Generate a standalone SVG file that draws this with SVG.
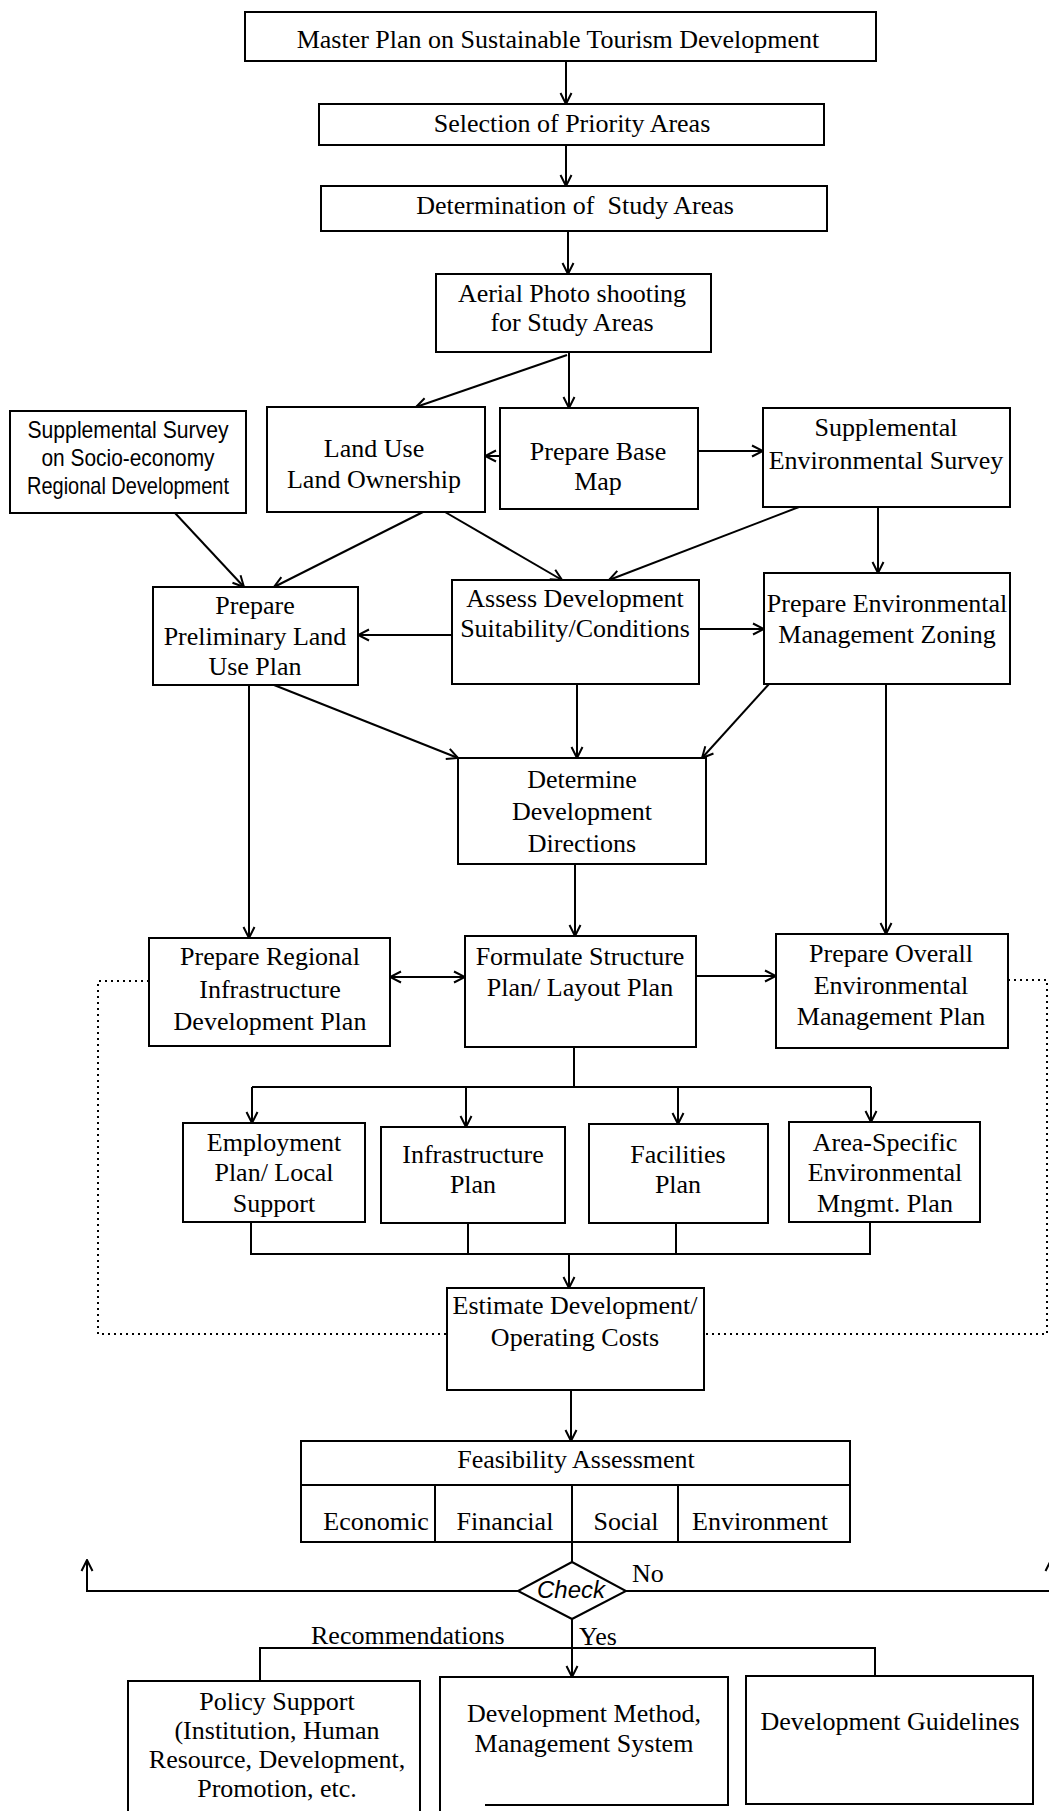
<svg xmlns="http://www.w3.org/2000/svg" width="1049" height="1811" viewBox="0 0 1049 1811">
<style>
.bx{fill:#fff;stroke:#000;stroke-width:2}
.t{font-family:"Liberation Serif","Times New Roman",serif;font-size:26px;fill:#000;text-anchor:middle}
.s{font-family:"Liberation Sans",Arial,sans-serif;font-size:24px;fill:#000;text-anchor:middle}
.c{fill:none;stroke:#000;stroke-width:2}
.d{fill:none;stroke:#000;stroke-width:2;stroke-dasharray:2 4}
</style>
<defs>
<marker id="a" markerUnits="userSpaceOnUse" markerWidth="14" markerHeight="14" viewBox="0 0 14 14" refX="13" refY="7" orient="auto-start-reverse">
<path d="M2,1.5 L13,7 L2,12.5" fill="none" stroke="#000" stroke-width="2"/>
</marker>
</defs>
<rect width="1049" height="1811" fill="#fff"/>
<g id="connectors">
<line class="c" x1="566" y1="61" x2="566" y2="104" marker-end="url(#a)"/>
<line class="c" x1="566" y1="145" x2="566" y2="186" marker-end="url(#a)"/>
<line class="c" x1="568" y1="231" x2="568" y2="274" marker-end="url(#a)"/>
<line class="c" x1="569" y1="352" x2="569" y2="408" marker-end="url(#a)"/>
<line class="c" x1="567" y1="355" x2="416" y2="407" marker-end="url(#a)"/>
<line class="c" x1="500" y1="456" x2="485" y2="456" marker-end="url(#a)"/>
<line class="c" x1="698" y1="451" x2="763" y2="451" marker-end="url(#a)"/>
<line class="c" x1="175" y1="513" x2="244" y2="587" marker-end="url(#a)"/>
<line class="c" x1="423" y1="512" x2="274" y2="587" marker-end="url(#a)"/>
<line class="c" x1="445" y1="512" x2="562" y2="580" marker-end="url(#a)"/>
<line class="c" x1="799" y1="507" x2="609" y2="580" marker-end="url(#a)"/>
<line class="c" x1="878" y1="507" x2="878" y2="573" marker-end="url(#a)"/>
<line class="c" x1="452" y1="635" x2="358" y2="635" marker-end="url(#a)"/>
<line class="c" x1="699" y1="629" x2="764" y2="629" marker-end="url(#a)"/>
<line class="c" x1="274" y1="685" x2="458" y2="758" marker-end="url(#a)"/>
<line class="c" x1="577" y1="684" x2="577" y2="758" marker-end="url(#a)"/>
<line class="c" x1="769" y1="684" x2="702" y2="758" marker-end="url(#a)"/>
<line class="c" x1="249" y1="685" x2="249" y2="938" marker-end="url(#a)"/>
<line class="c" x1="886" y1="684" x2="886" y2="934" marker-end="url(#a)"/>
<line class="c" x1="575" y1="864" x2="575" y2="936" marker-end="url(#a)"/>
<line class="c" x1="390" y1="977" x2="465" y2="977" marker-start="url(#a)" marker-end="url(#a)"/>
<line class="c" x1="696" y1="976" x2="776" y2="976" marker-end="url(#a)"/>
<polyline class="c" points="574,1047 574,1087"/>
<polyline class="c" points="252,1087 871,1087"/>
<line class="c" x1="252" y1="1087" x2="252" y2="1123" marker-end="url(#a)"/>
<line class="c" x1="466" y1="1087" x2="466" y2="1127" marker-end="url(#a)"/>
<line class="c" x1="678" y1="1087" x2="678" y2="1124" marker-end="url(#a)"/>
<line class="c" x1="871" y1="1087" x2="871" y2="1122" marker-end="url(#a)"/>
<polyline class="c" points="251,1222 251,1254 870,1254 870,1222"/>
<line class="c" x1="468" y1="1223" x2="468" y2="1254"/>
<line class="c" x1="676" y1="1223" x2="676" y2="1254"/>
<line class="c" x1="569" y1="1254" x2="569" y2="1288" marker-end="url(#a)"/>
<line class="c" x1="571" y1="1390" x2="571" y2="1441" marker-end="url(#a)"/>
<line class="c" x1="572" y1="1542" x2="572" y2="1562"/>
<polyline class="c" points="518,1591 87,1591 87,1560" marker-end="url(#a)"/>
<polyline class="c" points="626,1591 1051,1591 1051,1560" marker-end="url(#a)"/>
<line class="c" x1="572" y1="1619" x2="572" y2="1677" marker-end="url(#a)"/>
<polyline class="c" points="260,1681 260,1648 875,1648 875,1676"/>
<polyline class="d" points="149,981 98,981 98,1334 447,1334"/>
<polyline class="d" points="1008,980 1047,980 1047,1334 704,1334"/>
</g>
<g id="n1"><rect class="bx" x="245" y="12" width="631" height="49"/><text class="t" x="558" y="48">Master Plan on Sustainable Tourism Development</text></g>
<g id="n2"><rect class="bx" x="319" y="104" width="505" height="41"/><text class="t" x="572" y="132">Selection of Priority Areas</text></g>
<g id="n3"><rect class="bx" x="321" y="186" width="506" height="45"/><text class="t" x="575" y="214" style="white-space:pre">Determination of  Study Areas</text></g>
<g id="n4"><rect class="bx" x="436" y="274" width="275" height="78"/><text class="t" x="572" y="302">Aerial Photo shooting</text><text class="t" x="572" y="331">for Study Areas</text></g>
<g id="n5"><rect class="bx" x="10" y="411" width="236" height="102"/><text class="s" x="128" y="438" textLength="201" lengthAdjust="spacingAndGlyphs">Supplemental Survey</text><text class="s" x="128" y="466" textLength="173" lengthAdjust="spacingAndGlyphs">on Socio-economy</text><text class="s" x="128" y="494" textLength="202" lengthAdjust="spacingAndGlyphs">Regional Development</text></g>
<g id="n6"><rect class="bx" x="267" y="407" width="218" height="105"/><text class="t" x="374" y="457">Land Use</text><text class="t" x="374" y="488">Land Ownership</text></g>
<g id="n7"><rect class="bx" x="500" y="408" width="198" height="101"/><text class="t" x="598" y="460">Prepare Base</text><text class="t" x="598" y="490">Map</text></g>
<g id="n8"><rect class="bx" x="763" y="408" width="247" height="99"/><text class="t" x="886" y="436">Supplemental</text><text class="t" x="886" y="469">Environmental Survey</text></g>
<g id="n9"><rect class="bx" x="153" y="587" width="205" height="98"/><text class="t" x="255" y="614">Prepare</text><text class="t" x="255" y="645">Preliminary Land</text><text class="t" x="255" y="675">Use Plan</text></g>
<g id="n10"><rect class="bx" x="452" y="580" width="247" height="104"/><text class="t" x="575" y="607">Assess Development</text><text class="t" x="575" y="637">Suitability/Conditions</text></g>
<g id="n11"><rect class="bx" x="764" y="573" width="246" height="111"/><text class="t" x="887" y="612">Prepare Environmental</text><text class="t" x="887" y="643">Management Zoning</text></g>
<g id="n12"><rect class="bx" x="458" y="758" width="248" height="106"/><text class="t" x="582" y="788">Determine</text><text class="t" x="582" y="820">Development</text><text class="t" x="582" y="852">Directions</text></g>
<g id="n13"><rect class="bx" x="149" y="938" width="241" height="108"/><text class="t" x="270" y="965">Prepare Regional</text><text class="t" x="270" y="998">Infrastructure</text><text class="t" x="270" y="1030">Development Plan</text></g>
<g id="n14"><rect class="bx" x="465" y="936" width="231" height="111"/><text class="t" x="580" y="965">Formulate Structure</text><text class="t" x="580" y="996">Plan/ Layout Plan</text></g>
<g id="n15"><rect class="bx" x="776" y="934" width="232" height="114"/><text class="t" x="891" y="962">Prepare Overall</text><text class="t" x="891" y="994">Environmental</text><text class="t" x="891" y="1025">Management Plan</text></g>
<g id="n16"><rect class="bx" x="183" y="1123" width="182" height="99"/><text class="t" x="274" y="1151">Employment</text><text class="t" x="274" y="1181">Plan/ Local</text><text class="t" x="274" y="1212">Support</text></g>
<g id="n17"><rect class="bx" x="381" y="1127" width="184" height="96"/><text class="t" x="473" y="1163">Infrastructure</text><text class="t" x="473" y="1193">Plan</text></g>
<g id="n18"><rect class="bx" x="589" y="1124" width="179" height="99"/><text class="t" x="678" y="1163">Facilities</text><text class="t" x="678" y="1193">Plan</text></g>
<g id="n19"><rect class="bx" x="789" y="1122" width="191" height="100"/><text class="t" x="885" y="1151">Area-Specific</text><text class="t" x="885" y="1181">Environmental</text><text class="t" x="885" y="1212">Mngmt. Plan</text></g>
<g id="n20"><rect class="bx" x="447" y="1288" width="257" height="102"/><text class="t" x="575" y="1314">Estimate Development/</text><text class="t" x="575" y="1346">Operating Costs</text></g>
<g id="n21"><rect class="bx" x="301" y="1441" width="549" height="101"/><line class="c" x1="301" y1="1485" x2="850" y2="1485"/><line class="c" x1="435" y1="1485" x2="435" y2="1542"/><line class="c" x1="572" y1="1485" x2="572" y2="1542"/><line class="c" x1="678" y1="1485" x2="678" y2="1542"/><text class="t" x="576" y="1468">Feasibility Assessment</text><text class="t" x="376" y="1530">Economic</text><text class="t" x="505" y="1530">Financial</text><text class="t" x="626" y="1530">Social</text><text class="t" x="760" y="1530">Environment</text></g>
<g id="n22"><polygon class="bx" points="572,1562 626,1591 572,1619 518,1591"/><text class="s" x="571" y="1598" font-size="17" font-style="italic">Check</text><text class="t" x="632" y="1582" style="text-anchor:start">No</text><text class="t" x="579" y="1645" style="text-anchor:start">Yes</text><text class="t" x="311" y="1644" style="text-anchor:start">Recommendations</text></g>
<g id="n23"><path class="c" d="M128,1811 V1681 H420 V1811"/><text class="t" x="277" y="1710">Policy Support</text><text class="t" x="277" y="1739">(Institution, Human</text><text class="t" x="277" y="1768">Resource, Development,</text><text class="t" x="277" y="1797">Promotion, etc.</text></g>
<g id="n24"><path class="c" d="M440,1811 V1677 H728 V1805 H485"/><text class="t" x="584" y="1722">Development Method,</text><text class="t" x="584" y="1752">Management System</text></g>
<g id="n25"><rect class="bx" x="746" y="1676" width="287" height="128"/><text class="t" x="890" y="1730">Development Guidelines</text></g>
</svg>
